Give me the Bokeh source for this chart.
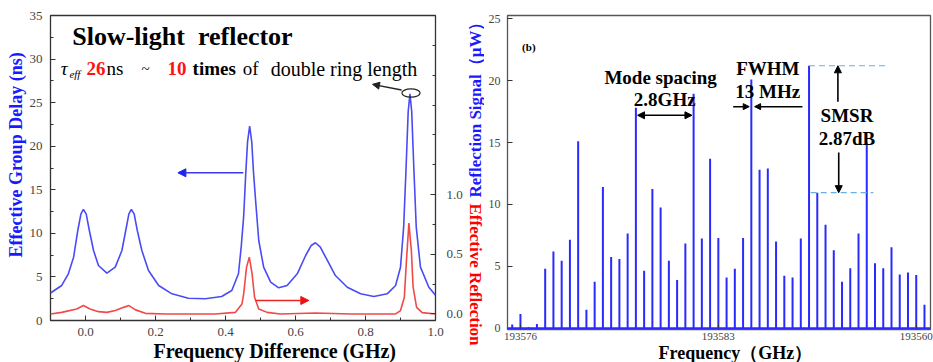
import math

from bokeh.embed import file_html
from bokeh.layouts import row
from bokeh.models import (Arrow, FixedTicker, Label, LinearAxis, NormalHead,
                          PrintfTickFormatter, Range1d, Span, Title)
from bokeh.plotting import figure
from bokeh.resources import INLINE

# ---------------- (a) slow-light reflector ----------------
# effective group delay (ns) against frequency difference (GHz)
delay_freq_ghz = [-0.100, -0.068, -0.049, -0.034, -0.022, -0.013, -0.006, 0.002,
                  0.011, 0.023, 0.037, 0.061, 0.085, 0.104, 0.115, 0.124, 0.131,
                  0.139, 0.148, 0.161, 0.180, 0.209, 0.247, 0.294, 0.342, 0.389,
                  0.418, 0.437, 0.445, 0.452, 0.458, 0.463, 0.469, 0.475, 0.480,
                  0.486, 0.495, 0.509, 0.529, 0.552, 0.576, 0.605, 0.629, 0.645,
                  0.657, 0.671, 0.691, 0.714, 0.748, 0.786, 0.824, 0.862, 0.886,
                  0.900, 0.909, 0.916, 0.922, 0.927, 0.932, 0.938, 0.945, 0.957,
                  0.981, 1.000]
group_delay_ns = [3.16, 4.02, 5.36, 7.26, 10.33, 12.24, 12.74, 12.24,
                  10.33, 8.03, 6.31, 5.43, 6.12, 8.03, 10.33, 12.24, 12.74,
                  12.24, 10.33, 8.03, 5.74, 4.02, 3.06, 2.56, 2.49, 2.75,
                  3.44, 5.36, 8.50, 12.00, 17.00, 20.50, 22.30, 20.50, 17.00,
                  13.77, 9.18, 6.12, 4.40, 3.75, 4.02, 5.36, 7.46, 8.61,
                  8.92, 8.41, 6.89, 5.16, 3.82, 3.06, 2.75, 3.06, 4.02,
                  6.12, 10.71, 17.59, 24.00, 26.00, 24.00, 17.59, 10.71, 6.12,
                  3.82, 2.90]

# effective reflection against frequency difference (GHz)
refl_freq_ghz = [-0.100, -0.068, -0.025, -0.006, 0.013, 0.037, 0.061, 0.085,
                 0.109, 0.124, 0.143, 0.171, 0.228, 0.371, 0.428, 0.447, 0.452,
                 0.460, 0.468, 0.476, 0.483, 0.495, 0.519, 0.557, 0.657, 0.757,
                 0.886, 0.900, 0.911, 0.917, 0.924, 0.931, 0.936, 0.946, 0.962,
                 1.000]
effective_reflection = [0.000, 0.013, 0.042, 0.070, 0.042, 0.019, 0.013, 0.028,
                        0.055, 0.070, 0.034, 0.005, 0.000, 0.000, 0.013, 0.084, 0.168,
                        0.390, 0.476, 0.336, 0.140, 0.042, 0.013, 0.000, 0.008, 0.000,
                        0.000, 0.028, 0.140, 0.448, 0.761, 0.532, 0.224, 0.055, 0.011,
                        0.000]

# ---------------- (b) reflection spectrum ----------------
mode_number = list(range(51))
reflection_uW = [0.30, 1.15, 0.08, 0.35, 4.80, 6.20, 5.45, 7.15, 15.10, 1.50,
                 3.75, 11.40, 5.75, 5.60, 7.65, 17.80, 4.65, 11.25, 9.75, 5.45,
                 3.90, 6.85, 18.95, 7.25, 13.70, 7.30, 4.10, 4.80, 7.30, 20.10,
                 12.80, 12.90, 7.00, 4.25, 4.10, 7.25, 21.20, 10.95, 8.35, 6.30,
                 3.75, 4.85, 7.65, 15.00, 5.25, 4.85, 6.55, 4.35, 4.50, 4.30,
                 1.90]
freq_tick_modes = [1, 25, 49]
freq_tick_labels = ["193576", "193583", "193560"]

SERIF = "Liberation Serif"
BLUE_CURVE = "#4b4bf5"
RED_CURVE = "#f24848"
BAR_BLUE = "#2a2aff"
TICK_GRAY = "#444444"
LABEL_BLUE = "#1a1aff"


def style_axis(axis, size):
    axis.major_label_text_font = SERIF
    axis.major_label_text_font_size = size
    axis.major_label_text_color = TICK_GRAY
    axis.axis_line_color = None
    axis.major_tick_in = 5
    axis.major_tick_out = 0
    axis.minor_tick_in = 3
    axis.minor_tick_out = 0
    axis.major_tick_line_color = "#333333"
    axis.minor_tick_line_color = "#333333"


def add_text(p, x, y, text, size, color="black", style="normal", align="left",
             angle=0.0, baseline="middle", font=SERIF):
    p.add_layout(Label(x=x, y=y, text=text, text_font=font, text_font_size=size,
                       text_color=color, text_font_style=style, text_align=align,
                       text_baseline=baseline, angle=angle))


def side_title(text, size, color="black", offset=0, standoff=0):
    return Title(text=text, align="left", offset=offset, standoff=standoff,
                 text_font=SERIF, text_font_size=size, text_font_style="bold",
                 text_color=color)


# ---------- left panel ----------
p1 = figure(width=467, height=362, output_backend="svg", toolbar_location=None,
            x_range=Range1d(-0.1, 1.0), y_range=Range1d(0, 35),
            min_border_left=50, min_border_right=32, min_border_top=15,
            min_border_bottom=42)
p1.frame_align = False
p1.xgrid.visible = False
p1.ygrid.visible = False
p1.outline_line_color = "#333333"
p1.outline_line_width = 1.3
p1.background_fill_color = "white"
p1.border_fill_color = "white"

p1.extra_y_ranges = {"refl": Range1d(-0.055, 2.5)}

p1.xaxis.ticker = FixedTicker(ticks=[0.0, 0.2, 0.4, 0.6, 0.8, 1.0],
                              minor_ticks=[-0.1, 0.1, 0.3, 0.5, 0.7, 0.9])
p1.xaxis.formatter = PrintfTickFormatter(format="%.1f")
p1.xaxis.major_label_standoff = 7
style_axis(p1.xaxis[0], "13px")

p1.yaxis.ticker = FixedTicker(ticks=[0, 5, 10, 15, 20, 25, 30, 35],
                              minor_ticks=[2.5, 7.5, 12.5, 17.5, 22.5, 27.5, 32.5])
p1.yaxis.major_label_standoff = 8
style_axis(p1.yaxis[0], "13px")

refl_axis = LinearAxis(y_range_name="refl",
                       ticker=FixedTicker(ticks=[0.0, 0.5, 1.0],
                                          minor_ticks=[0.25, 0.75, 1.25, 1.5, 1.75,
                                                       2.0, 2.25, 2.5]),
                       formatter=PrintfTickFormatter(format="%.1f"))
refl_axis.major_label_standoff = 11
style_axis(refl_axis, "13px")
p1.add_layout(refl_axis, "right")

p1.add_layout(side_title("Effective Group Delay (ns)", "18px", LABEL_BLUE, 63, 2), "left")
p1.add_layout(side_title("Frequency Difference (GHz)", "20px", offset=103, standoff=-2),
              "below")

p1.line(delay_freq_ghz, group_delay_ns, line_color=BLUE_CURVE, line_width=1.6)
p1.line(refl_freq_ghz, effective_reflection, line_color=RED_CURVE, line_width=1.6,
        y_range_name="refl")

# marker ellipse around the highest delay peak
peak_i = max(range(len(group_delay_ns)), key=lambda i: group_delay_ns[i])
peak_x, peak_y = delay_freq_ghz[peak_i], group_delay_ns[peak_i]
p1.ellipse(x=[peak_x + 0.003], y=[peak_y + 0.1], width=0.052, height=0.95,
           fill_color=None, line_color="#222222", line_width=1.2)
p1.add_layout(Arrow(end=NormalHead(size=7, fill_color="#222222", line_color="#222222"),
                    x_start=peak_x - 0.024, y_start=peak_y + 0.45,
                    x_end=0.82, y_end=27.1, line_color="#222222", line_width=1.3))

# direction arrows pointing at each curve's axis
p1.add_layout(Arrow(end=NormalHead(size=8, fill_color="#2222ee", line_color="#2222ee"),
                    x_start=0.451, y_start=16.95, x_end=0.264, y_end=16.95,
                    line_color="#3a3aee", line_width=1.5))
p1.add_layout(Arrow(end=NormalHead(size=8, fill_color="#ee1111", line_color="#ee1111"),
                    x_start=0.486, y_start=2.3, x_end=0.638, y_end=2.3,
                    line_color="#ee2222", line_width=1.5))

add_text(p1, -0.038, 32.6, "Slow-light\u00a0\u00a0reflector", "26px", style="bold")

line_y = 28.9
add_text(p1, -0.071, line_y, "\u03c4", "19px", style="italic")
add_text(p1, -0.046, line_y - 0.6, "eff", "11px", style="italic")
add_text(p1, 0.003, line_y, "26", "19px", color="#ff1111", style="bold")
add_text(p1, 0.060, line_y, "ns", "19px")
add_text(p1, 0.160, line_y, "~", "15px")
add_text(p1, 0.234, line_y, "10", "19px", color="#ff1111", style="bold")
add_text(p1, 0.306, line_y, "times", "19px", style="bold")
add_text(p1, 0.449, line_y, "of", "19px")
add_text(p1, 0.529, line_y, "double ring length", "20px")

# ---------- shared gap holding the two stacked vertical titles ----------
gap = figure(width=17, height=362, output_backend="svg", toolbar_location=None,
             x_range=Range1d(0, 17), y_range=Range1d(0, 362),
             min_border_left=0, min_border_right=0, min_border_top=0,
             min_border_bottom=0)
gap.frame_align = False
gap.axis.visible = False
gap.xgrid.visible = False
gap.ygrid.visible = False
gap.outline_line_color = None
gap.border_fill_color = "white"
# red title reads downwards from its anchor, blue title reads upwards from its anchor
add_text(gap, 8, 159, "Effective Reflection", "17px", color="#ff0000",
         style="bold", align="left", angle=-math.pi / 2)
add_text(gap, 8, 165, "Reflection Signal\uff08\u03bcW\uff09", "17px",
         color=LABEL_BLUE, style="bold", align="left", angle=math.pi / 2)

# ---------- right panel ----------
p2 = figure(width=449, height=362, output_backend="svg", toolbar_location=None,
            x_range=Range1d(-0.57, 50.73), y_range=Range1d(-0.1, 25.26),
            min_border_left=23, min_border_right=3, min_border_top=15,
            min_border_bottom=33)
p2.frame_align = False
p2.xgrid.visible = False
p2.ygrid.visible = False
p2.outline_line_color = "#555555"
p2.outline_line_width = 1.3
p2.background_fill_color = "white"
p2.border_fill_color = "white"

p2.xaxis.ticker = FixedTicker(ticks=freq_tick_modes)
p2.xaxis.major_label_overrides = {m: lab for m, lab in zip(freq_tick_modes, freq_tick_labels)}
p2.xaxis.major_label_standoff = 3
style_axis(p2.xaxis[0], "11px")
p2.yaxis.ticker = FixedTicker(ticks=[0, 5, 10, 15, 20, 25])
p2.yaxis.major_label_standoff = 7
style_axis(p2.yaxis[0], "12px")
p2.add_layout(side_title("Frequency\uff08GHz\uff09", "18px", offset=151, standoff=-4),
              "below")

p2.segment(x0=mode_number, y0=[0] * len(mode_number), x1=mode_number,
           y1=reflection_uW, line_color=BAR_BLUE, line_width=2)
p2.add_layout(Span(location=0, dimension="width", line_color=BAR_BLUE, line_width=2))

add_text(p2, 1.2, 22.7, "(b)", "11px", style="bold")

# mode spacing annotation
add_text(p2, 18.0, 20.25, "Mode spacing", "19px", style="bold", align="center")
add_text(p2, 18.5, 18.45, "2.8GHz", "19px", style="bold", align="center")
p2.add_layout(Arrow(start=NormalHead(size=7, fill_color="black", line_color="black"),
                    end=NormalHead(size=7, fill_color="black", line_color="black"),
                    x_start=15.2, y_start=17.2, x_end=21.8, y_end=17.2,
                    line_color="black", line_width=1.5))

# FWHM annotation
add_text(p2, 31.0, 20.95, "FWHM", "19px", style="bold", align="center")
add_text(p2, 31.0, 19.1, "13 MHz", "19px", style="bold", align="center")
p2.add_layout(Arrow(end=NormalHead(size=6, fill_color="black", line_color="black"),
                    x_start=26.8, y_start=17.9, x_end=28.75, y_end=17.9,
                    line_color="black", line_width=1.5))
p2.add_layout(Arrow(end=NormalHead(size=6, fill_color="black", line_color="black"),
                    x_start=35.2, y_start=17.9, x_end=29.4, y_end=17.9,
                    line_color="black", line_width=1.5))

# side-mode suppression ratio annotation
main_i = max(range(len(reflection_uW)), key=lambda i: reflection_uW[i])
main_level = reflection_uW[main_i]
side_level = reflection_uW[main_i + 1]
p2.segment(x0=[mode_number[main_i], mode_number[main_i] + 0.2],
           y0=[main_level, side_level],
           x1=[mode_number[main_i] + 9.3, mode_number[main_i] + 7.8],
           y1=[main_level, side_level],
           line_color="#6aaee6", line_width=1.2, line_dash="6 4")
add_text(p2, 40.6, 17.2, "SMSR", "19px", style="bold", align="center")
add_text(p2, 40.6, 15.3, "2.87dB", "19px", style="bold", align="center")
p2.add_layout(Arrow(end=NormalHead(size=7, fill_color="black", line_color="black"),
                    x_start=39.5, y_start=18.3, x_end=39.5, y_end=main_level,
                    line_color="black", line_width=1.6))
p2.add_layout(Arrow(end=NormalHead(size=7, fill_color="black", line_color="black"),
                    x_start=39.6, y_start=14.2, x_end=39.6, y_end=side_level,
                    line_color="black", line_width=1.6))

layout = row(p1, gap, p2)
open("out.html", "w").write(file_html(layout, INLINE))
